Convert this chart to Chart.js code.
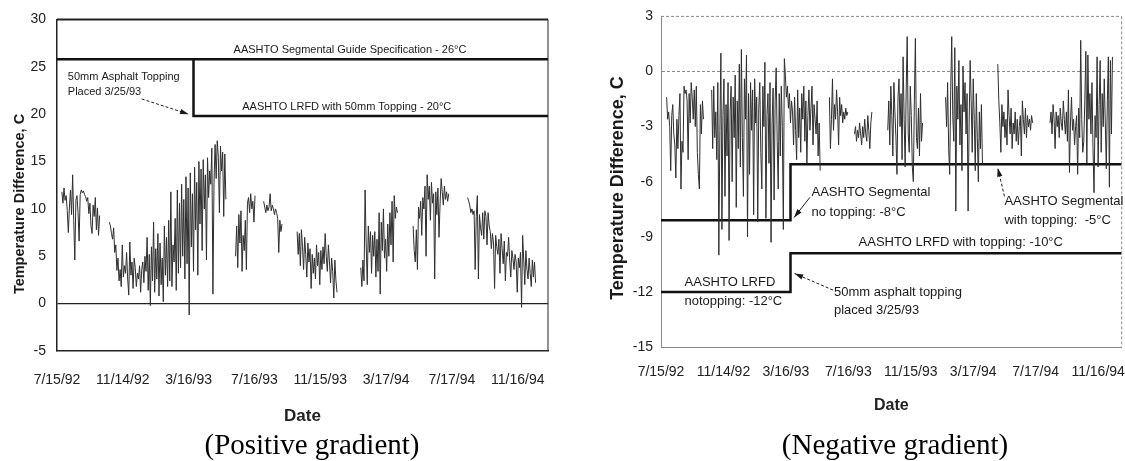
<!DOCTYPE html>
<html>
<head>
<meta charset="utf-8">
<script src="https://cdn.jsdelivr.net/npm/chart.js@4.4.1/dist/chart.umd.min.js"></script>
<style>
  body { margin: 0; background: #fff; width: 1125px; height: 461px; overflow: hidden; position: relative; }
  .wrap { position: absolute; top: 0; width: 560px; height: 430px; }
  #posWrap { left: 0; }
  #negWrap { left: 565px; }
  .cap { position: absolute; top: 428px; width: 400px; text-align: center; line-height: 34px;
         font: 29px "Liberation Serif", "Times New Roman", serif; color: #000; }
</style>
</head>
<body>
<div class="wrap" id="posWrap"><canvas id="posChart" width="560" height="430"></canvas></div>
<div class="wrap" id="negWrap"><canvas id="negChart" width="560" height="430"></canvas></div>
<div class="cap" style="left:112px">(Positive gradient)</div>
<div class="cap" style="left:695px">(Negative gradient)</div>
<script>
// x axis: days since 7/15/92, Excel style ticks every 122 days
const dateLabels = ["7/15/92", "11/14/92", "3/16/93", "7/16/93", "11/15/93", "3/17/94", "7/17/94", "11/16/94"];
const tickDays = [0, 122, 244, 366, 488, 610, 732, 854];
const dayStep = 2;

// positive gradient: start day of each logged stretch, then its readings
const posStarts = [9, 97, 331, 383, 445, 563, 660, 761];
const posSeg1 = [11.8, 10.6, 12.2, 10.9, 11.4, 9.8, 7.5, 10.2, 12.0, 9.4, 13.6, 8.8, 4.6, 10.9, 11.4, 9.6, 6.6, 11.5,
  12.0, 11.7, 11.9, 11.5, 11.3, 10.8, 11.2, 9.5, 10.6, 8.2, 7.4, 10.4, 9.2, 11.2, 7.8, 10.1, 7.2, 9.3];
const posSeg2 = [8.6, 8.2, 7.4, 6.8, 8.0, 5.4, 6.2, 3.5,
  4.8, 2.4, 3.6, 1.8, 6.2, 2.8, 4.0,
  3.2, 5.4, 2.6, 0.9, 6.5, 3.0, 4.4, 1.6, 4.8, 3.8,
  1.8, 3.2, 2.6, 4.0, 1.2, 3.6, 4.4, 2.2, 5.0, 3.4,
  7.0, 1.4, 5.2, -0.2, 6.0, 2.4, 8.6, 1.2, 5.8, 2.6,
  7.4, 0.8, 6.4, 2.0, 4.8, 0.2, 8.2, 3.0, 7.0, 1.8,
  8.8, 2.4, 11.8, 1.8, 6.2, 4.4, 9.0, 1.4, 12.0, 3.2,
  10.6, 3.8, 12.6, 5.0, 11.0, 2.6, 13.4, 4.2, 12.2, -1.2,
  13.8, 6.0, 11.6, 3.4, 14.4, 7.8, 12.8, 3.0, 15.0, 8.4,
  14.2, 5.6, 15.2, 10.0, 13.6, 4.6, 15.4, 11.2, 14.0, 12.6,
  16.4, 1.0, 12.8, 16.8, 13.2, 17.2, 15.4, 9.6, 16.6, 14.0, 16.0, 9.2, 15.8, 11.0];
const posSeg3 = [5.0, 8.2, 3.8, 9.4, 6.4, 9.8, 3.4, 7.2, 5.6, 8.8, 3.6, 10.6, 11.2, 9.6, 11.6, 10.0, 10.8, 8.6, 11.4];
const posSeg4 = [10.8, 10.2, 9.6, 10.4, 9.8, 10.2, 11.6, 9.8, 10.4, 10.0, 9.4, 10.0, 9.6, 9.0, 5.4, 8.8, 7.6, 8.4];
const posSeg5 = [7.6, 5.2, 7.4, 4.0, 7.8, 6.0, 3.6, 7.0, 5.2, 2.8, 6.4, 4.4, 5.8, 1.6, 5.2, 3.2, 4.8, 2.6, 6.2, 4.0,
  5.4, 2.0, 5.6, 3.6, 6.0, 4.2, 7.4, 5.0, 3.4, 6.2, 4.4, 2.2, 4.8, 3.4, 0.6, 4.6, 2.4, 1.2];
const posSeg6 = [3.8, 1.8, 4.6, 2.4, 12.0, 6.4, 2.0, 8.2, 5.4, 7.6, 3.2, 7.2, 5.0, 7.6, 2.8, 6.8, 3.4, 9.6, 1.0, 8.6,
  5.6, 10.0, 4.8, 6.8, 3.4, 8.4, 5.0, 9.6, 6.2, 10.8, 4.4, 11.4, 9.0, 10.2, 9.6];
const posSeg7 = [8.2, 5.6, 4.4, 7.8, 3.6, 10.2, 9.0, 10.8, 7.2, 11.2, 10.0, 12.4, 5.0, 13.6, 11.0, 12.4, 8.8, 12.8,
  10.6, 11.6, 2.6, 11.8, 9.4, 12.2, 7.0, 10.6, 13.2, 11.8, 10.4, 12.4, 11.0, 11.8, 10.8, 11.6];
const posSeg8 = [11.2, 10.8, 10.4, 9.6, 10.0, 9.4, 9.8, 3.6, 9.2, 11.4, 2.6, 9.4, 8.0, 7.2, 9.6, 6.8, 9.8, 9.2, 6.2, 9.6,
  8.2, 7.6, 5.8, 7.4, 6.4, 1.6, 7.2, 6.0, 5.2, 6.8, 3.2, 7.4, 5.8, 4.2, 6.6, 2.4, 5.4, 5.0, 7.0, 4.6,
  2.8, 5.6, 4.8, 3.6, 5.2, 4.4, 1.2, 4.8, 3.8, 5.4, -0.4, 7.2, 4.6, 2.0, 5.6, 3.6, 2.6, 4.8, 3.2, 1.8,
  4.6, 2.8, 4.4, 2.2];

// negative gradient
const negStarts = [11, 99, 329, 378, 443, 556, 658, 760];
const negSeg1 = [-1.4, -2.6, -2.2, -3.0, -5.4, -2.4, -1.8, -3.4, -4.0, -5.8, -2.6, -4.2, -2.4, -1.2, -6.4, -3.8, -4.4,
  -0.8, -1.2, -1.0, -1.6, -4.8, -1.2, -2.8, -0.6, -1.4, -2.6, -1.0, -3.0, -0.8, -4.4, -5.6, -6.4, -1.8, -3.4, -1.6, -2.6];
const negSeg2 = [-1.0, -4.2, -0.8, -3.6, -2.2, -4.8, -0.6, -10.0, -3.2, 1.0,
  -8.6, -2.4, -0.4, -6.8, -1.8, -4.6, -0.6, -9.2, -2.2, -0.8,
  -6.0, -1.4, -3.6, -0.2, -7.4, -1.6, -4.2, 0.4, -5.2, 1.2,
  -3.6, -6.8, -0.4, -2.6, 0.9, -9.0, -1.2, -5.6, -0.6, -3.2,
  -1.0, -7.8, -0.4, -2.8, -1.4, -8.2, -2.0, -0.6, -4.4, -6.4,
  -0.8, -3.0, 0.5, -8.0, -2.4, -1.2, -5.0, -0.6, -9.3, -2.8,
  -0.9, -7.0, -1.6, 0.2, -3.8, -6.4, -1.2, -4.6, -0.8, -3.0,
  -8.6, 0.7, -0.2, -1.4, -0.8, -2.0, -1.2, -2.8, -1.6, -2.2,
  -4.0, -1.4, -3.2, -4.8, -1.0, -3.6, -2.0, -4.4, -1.2, -2.6,
  -0.8, -3.8, -1.6, -5.0, -2.4, -1.0, -3.2, -2.0, -0.8, -4.0,
  -1.8, -2.6, -3.4, -1.6, -4.6, -2.8, -5.4];
const negSeg3 = [-1.4, -4.2, -2.6, -0.4, -3.2, -1.8, -2.6, -1.0, -2.2, -4.0, -1.4, -2.4, -1.8, -2.8, -2.2, -2.6, -2.0, -2.4, -2.2];
const negSeg4 = [-3.4, -3.0, -3.8, -3.2, -3.6, -2.8, -3.4, -4.0, -3.0, -3.6, -2.6, -3.4, -3.8, -2.4, -3.2, -4.2, -2.8, -2.2];
const negSeg5 = [-3.2, -1.6, -4.0, -0.8, -2.4, -4.6, -0.6, -2.2, -3.6, -5.6, -1.4, -0.4, -3.0, -1.2, -4.8, 0.8, -2.6,
  -5.2, -1.0, 1.9, -3.4, -4.4, -0.8, -2.4, -5.2, -6.0, -1.6, 1.8, -3.6, -4.2, -2.0, -4.6, -1.2, -3.8, -2.8];
const negSeg6 = [-1.4, -3.0, -0.6, -4.2, -5.6, -1.0, 1.9, -2.4, -3.8, 1.3, -7.6, -0.8, -2.6, 0.6, -4.0, -1.8, -5.4, 0.3,
  -2.2, -0.6, -3.4, -1.2, -7.6, -2.8, 0.6, -1.6, -4.4, -0.4, -2.6, -5.4, -1.2, -3.6, -6.0, -2.2, -4.2, -1.8, -5.0];
const negSeg7 = [0.4, -1.6, -2.8, -4.4, -1.8, -3.0, -2.2, -3.6, -2.6, -4.0, -1.0, -2.4, -3.4, -2.0, -4.2, -2.8, -3.4,
  -2.2, -3.8, -2.6, -4.0, -3.0, -2.4, -4.6, -1.6, -2.6, -3.4, -2.0, -3.6, -2.4, -3.0, -2.6, -3.2, -2.4, -2.8];
const negSeg8 = [-2.8, -2.2, -3.4, -1.8, -2.6, -4.2, -2.2, -3.0, -2.4, -3.6,
  -2.0, -2.8, -3.2, -1.6, -2.6, -3.4, -2.2, -3.8, -1.0, -5.5,
  -2.8, -1.4, -3.2, -2.6, -4.0, -3.0, -2.4, -5.6, -2.0, -3.6,
  1.7, -2.6, -4.4, -3.8, -1.6, 1.1, -5.0, 0.9, -2.6, -1.2,
  -3.4, -0.6, -4.2, -6.6, -2.4, -3.6, 0.8, -5.2, -1.8, 0.6,
  -4.4, -1.2, -3.0, -0.4, -2.8, -5.3, -1.6, 0.8, -6.3, 0.6,
  -3.4, 0.8];

// design limits
const toppingDay = 253;
const posGuideDays = [0, 910];
const posGuideValues = [25.8, 25.8];
const posLrfdDays = [toppingDay, toppingDay, 910];
const posLrfdValues = [25.8, 19.8, 19.8];
const negSegDays = [0, toppingDay, toppingDay, 900];
const negSegValues = [-8.1, -8.1, -5.05, -5.05];
const negLrfdDays = [0, toppingDay, toppingDay, 900];
const negLrfdValues = [-12, -12, -9.9, -9.9];

const fam = '"Liberation Sans", Arial, sans-serif';
Chart.defaults.font.family = fam;
Chart.defaults.color = "#222";

function series(starts, segments) {
  const pts = [];
  segments.forEach((vals, k) => {
    vals.forEach((v, i) => pts.push({ x: starts[k] + i * dayStep, y: v }));
    pts.push({ x: starts[k] + vals.length * dayStep, y: null });
  });
  return pts;
}

function pairs(days, values) {
  return days.map((d, i) => ({ x: d, y: values[i] }));
}

function arrow(ctx, x1, y1, x2, y2, dashed) {
  ctx.setLineDash(dashed ? [3, 2] : []);
  ctx.beginPath();
  ctx.moveTo(x1, y1);
  ctx.lineTo(x2, y2);
  ctx.stroke();
  ctx.setLineDash([]);
  const a = Math.atan2(y2 - y1, x2 - x1);
  ctx.beginPath();
  ctx.moveTo(x2, y2);
  ctx.lineTo(x2 - 9 * Math.cos(a - 0.3), y2 - 9 * Math.sin(a - 0.3));
  ctx.lineTo(x2 - 9 * Math.cos(a + 0.3), y2 - 9 * Math.sin(a + 0.3));
  ctx.closePath();
  ctx.fill();
}

// frame, notes, arrows and the rotated y title
const notesPlugin = {
  id: "notes",
  afterDatasetsDraw(chart, args, opts) {
    const { ctx, chartArea: a, scales: { x, y } } = chart;
    ctx.save();
    ctx.strokeStyle = opts.frameColor;
    ctx.setLineDash(opts.frameDash);
    ctx.lineWidth = opts.topWidth;
    ctx.beginPath();
    ctx.moveTo(a.left, a.top);
    ctx.lineTo(a.right, a.top);
    ctx.stroke();
    ctx.lineWidth = 1;
    ctx.beginPath();
    ctx.moveTo(a.right, a.top);
    ctx.lineTo(a.right, a.bottom);
    ctx.stroke();
    ctx.setLineDash([]);

    ctx.fillStyle = "#1a1a1a";
    ctx.strokeStyle = "#1a1a1a";
    ctx.font = opts.font;
    ctx.textBaseline = "middle";
    opts.notes.forEach(n => {
      ctx.textAlign = n.align || "left";
      ctx.fillText(n.text, x.getPixelForValue(n.day), y.getPixelForValue(n.value));
    });
    ctx.lineWidth = 1;
    opts.arrows.forEach(r => {
      arrow(ctx, x.getPixelForValue(r.from[0]), y.getPixelForValue(r.from[1]),
        x.getPixelForValue(r.to[0]), y.getPixelForValue(r.to[1]), r.dashed);
    });

    ctx.translate(opts.titleX, opts.titleY);
    ctx.rotate(-Math.PI / 2);
    ctx.textAlign = "center";
    ctx.font = opts.titleFont;
    ctx.fillText("Temperature Difference, C", 0, 0);
    ctx.restore();
  }
};

// tick gap is given as an invisible tick mark so the label padding does not eat the right edge
function xScale(max, gap, titlePad, titleSize, height, border) {
  return {
    type: "linear", min: 0, max: max,
    afterBuildTicks: s => { s.ticks = tickDays.map(v => ({ value: v })); },
    afterFit: s => { s.height = height; },
    ticks: { callback: (v, i) => dateLabels[i], font: { size: 14 }, padding: 0, maxRotation: 0, autoSkip: false },
    grid: { display: false, drawTicks: true, tickLength: gap },
    border: border,
    title: { display: true, text: "Date", font: { size: titleSize, weight: "bold" }, padding: { top: 0, bottom: titlePad } }
  };
}

new Chart(document.getElementById("posChart"), {
  type: "line",
  data: {
    datasets: [
      { data: series(posStarts, [posSeg1, posSeg2, posSeg3, posSeg4, posSeg5, posSeg6, posSeg7, posSeg8]),
        borderColor: "#2e2e2e", borderWidth: 1 },
      { data: pairs(posGuideDays, posGuideValues), borderColor: "#111", borderWidth: 2.5 },
      { data: pairs(posLrfdDays, posLrfdValues), borderColor: "#111", borderWidth: 2.5 }
    ]
  },
  options: {
    responsive: false, animation: false,
    layout: { padding: { top: 17, right: 12, bottom: 0, left: 0 } },
    elements: { point: { radius: 0 }, line: { tension: 0 } },
    plugins: {
      legend: { display: false }, tooltip: { enabled: false },
      notes: {
        frameColor: "#222", frameDash: [], topWidth: 2,
        font: "11px " + fam,
        titleFont: "bold 14.5px " + fam, titleX: 20, titleY: 204,
        notes: [
          { text: "AASHTO Segmental Guide Specification - 26°C", day: 543, value: 26.8, align: "center" },
          { text: "AASHTO LRFD with 50mm Topping - 20°C", day: 537, value: 20.8, align: "center" },
          { text: "50mm Asphalt Topping", day: 20, value: 23.9 },
          { text: "Placed 3/25/93", day: 20, value: 22.3 }
        ],
        arrows: [{ from: [157, 21.6], to: [244, 20.0], dashed: true }]
      }
    },
    scales: {
      x: xScale(910, 21, 3, 17, 79, { display: true, color: "#222", width: 1.5 }),
      y: {
        min: -5, max: 30,
        afterFit: s => { s.width = 57; },
        ticks: { stepSize: 5, font: { size: 14 }, padding: 11 },
        grid: { drawTicks: false, color: c => (c.tick && c.tick.value === 0 ? "#222" : "rgba(0,0,0,0)"), lineWidth: 1.2 },
        border: { display: true, color: "#222", width: 1.5 }
      }
    }
  },
  plugins: [notesPlugin]
});

new Chart(document.getElementById("negChart"), {
  type: "line",
  data: {
    datasets: [
      { data: series(negStarts, [negSeg1, negSeg2, negSeg3, negSeg4, negSeg5, negSeg6, negSeg7, negSeg8]),
        borderColor: "#2e2e2e", borderWidth: 1 },
      { data: pairs(negSegDays, negSegValues), borderColor: "#111", borderWidth: 2.5 },
      { data: pairs(negLrfdDays, negLrfdValues), borderColor: "#111", borderWidth: 2.5 }
    ]
  },
  options: {
    responsive: false, animation: false,
    layout: { padding: { top: 16, right: 3, bottom: 0, left: 0 } },
    elements: { point: { radius: 0 }, line: { tension: 0 } },
    plugins: {
      legend: { display: false }, tooltip: { enabled: false },
      notes: {
        frameColor: "#8a8a8a", frameDash: [3, 2], topWidth: 1,
        font: "13px " + fam,
        titleFont: "bold 18px " + fam, titleX: 53, titleY: 188,
        notes: [
          { text: "AASHTO Segmental", day: 294, value: -6.6 },
          { text: "no topping: -8°C", day: 294, value: -7.65 },
          { text: "AASHTO Segmental", day: 671, value: -7.1 },
          { text: "with topping:  -5°C", day: 671, value: -8.1 },
          { text: "AASHTO LRFD with topping: -10°C", day: 386, value: -9.33 },
          { text: "AASHTO LRFD", day: 46, value: -11.5 },
          { text: "notopping: -12°C", day: 46, value: -12.5 },
          { text: "50mm asphalt topping", day: 338, value: -12.05 },
          { text: "placed 3/25/93", day: 338, value: -13.0 }
        ],
        arrows: [
          { from: [291, -6.85], to: [260, -7.95], dashed: false },
          { from: [671, -6.8], to: [658, -5.25], dashed: true },
          { from: [336, -11.9], to: [261, -11.0], dashed: true }
        ]
      }
    },
    scales: {
      x: xScale(900, 17, 15, 16, 83, { display: true, color: "#8a8a8a", width: 1, dash: [3, 2] }),
      y: {
        min: -15, max: 3,
        afterFit: s => { s.width = 96; },
        ticks: { stepSize: 3, font: { size: 14 }, padding: 8 },
        grid: { drawTicks: false, color: c => (c.tick && c.tick.value === 0 ? "#888" : "rgba(0,0,0,0)"), lineWidth: 1 },
        border: { display: true, color: "#8a8a8a", width: 1, dash: [3, 2] }
      }
    }
  },
  plugins: [notesPlugin]
});
</script>
</body>
</html>
